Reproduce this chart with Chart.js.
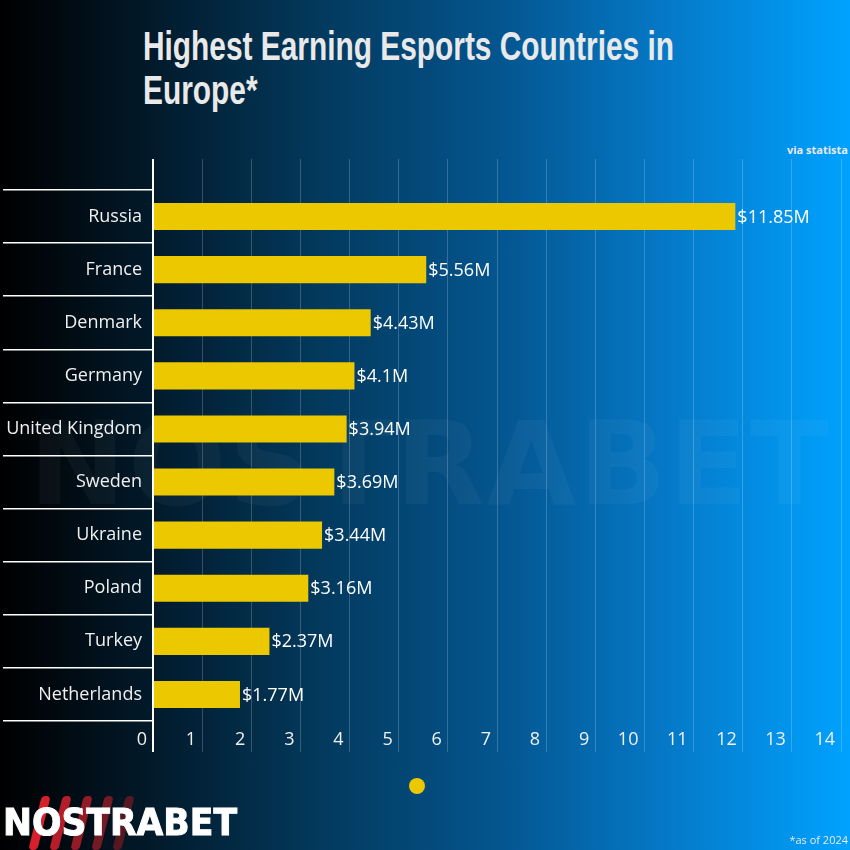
<!DOCTYPE html>
<html>
<head>
<meta charset="utf-8">
<script src="https://cdn.jsdelivr.net/npm/chart.js@4.4.1/dist/chart.umd.min.js"></script>
<style>
  html, body { margin: 0; padding: 0; }
  body {
    width: 850px; height: 850px; position: relative; overflow: hidden;
    background: linear-gradient(90deg, #000000 0%, #021a2b 18%, #033a5e 38%, #04548d 58%, #0578c6 78%, #00a2ff 100%);
    font-family: 'Open Sans', sans-serif;
  }
  #title {
    position: absolute; left: 143px; top: 24px; color: #e9e9e9;
    font-family: 'Liberation Sans', sans-serif;
    font-weight: bold; font-size: 40px; line-height: 44px; transform-origin: left top;
    white-space: nowrap;
  }
  #title span { display: inline-block; }
  #source { position: absolute; right: 2px; top: 142px; color: #e9e9e9; font-size: 11px; font-weight: bold; }
  #note { position: absolute; right: 2px; top: 832px; color: #e9e9e9; font-size: 11px; }
  #watermark {
    position: absolute; left: 20px; top: 396px; width: 820px; text-align: center;
    font-family: 'DejaVu Sans', sans-serif; font-weight: bold; font-size: 116px;
    color: rgba(255,255,255,0.04); letter-spacing: 2px;
  }
  #dot { position: absolute; left: 409px; top: 778px; width: 16px; height: 16px; border-radius: 50%; background: #ebc800; }
  #logo { position: absolute; left: 3px; top: 796px; width: 240px; height: 54px; }
  #logo .stripe { position: absolute; top: 0; width: 9px; height: 54px; transform: skewX(-14deg); border-radius: 4px; }
  #logo .word {
    position: absolute; left: 0; top: 5px; color: #ffffff; transform-origin: left top;
    font-family: 'DejaVu Sans', sans-serif; font-weight: bold; font-size: 37px; white-space: nowrap;
    -webkit-text-stroke: 1px #ffffff;
  }
  canvas { position: absolute; left: 0; top: 0; }
</style>
</head>
<body>
<div id="watermark">NOSTRABET</div>
<div id="title"><span id="line1">Highest Earning Esports Countries in</span><br><span>Europe*</span></div>
<div id="source">via statista</div>
<canvas id="chart" width="850" height="850"></canvas>
<div id="dot"></div>
<div id="logo">
  <div class="stripe" style="left:32px;background:#d6202c"></div>
  <div class="stripe" style="left:53px;background:#b51d29"></div>
  <div class="stripe" style="left:74px;background:#921b26"></div>
  <div class="stripe" style="left:95px;background:#731a24"></div>
  <div class="stripe" style="left:116px;background:#551820"></div>
  <div class="word" id="logoword">NOSTRABET</div>
</div>
<div id="note">*as of 2024</div>
<script>
// data
const countries = ['Russia', 'France', 'Denmark', 'Germany', 'United Kingdom', 'Sweden', 'Ukraine', 'Poland', 'Turkey', 'Netherlands'];
const earnings = [11.85, 5.56, 4.43, 4.1, 3.94, 3.69, 3.44, 3.16, 2.37, 1.77];
const axisMin = 0;
const axisMax = 14;

// squeeze title + logo to the widths in the picture
const line1 = document.getElementById('line1');
const title = document.getElementById('title');
title.style.transform = 'scaleX(' + (531 / line1.getBoundingClientRect().width) + ')';
const logoWord = document.getElementById('logoword');
logoWord.style.transform = 'scaleX(' + (234 / logoWord.getBoundingClientRect().width) + ')';

const labelFont = { family: "'Open Sans', sans-serif", size: 18 };
const faint = 'rgba(255,255,255,0.2)';
const gridColor = (ctx) => (ctx.tick && ctx.tick.value === 0 ? '#ffffff' : faint);
const gridWidth = (ctx) => (ctx.tick && ctx.tick.value === 0 ? 2 : 1);

// value labels at the bar ends
const valueLabels = {
  id: 'valueLabels',
  afterDatasetsDraw(chart) {
    const ctx = chart.ctx;
    const meta = chart.getDatasetMeta(0);
    ctx.save();
    ctx.font = '18px ' + labelFont.family;
    ctx.fillStyle = '#ffffff';
    ctx.textBaseline = 'middle';
    ctx.textAlign = 'left';
    meta.data.forEach((bar, i) => {
      ctx.fillText('$' + earnings[i] + 'M', bar.x + 2, bar.y + 1);
    });
    ctx.restore();
  }
};

new Chart(document.getElementById('chart'), {
  type: 'bar',
  data: {
    labels: countries,
    datasets: [{
      data: earnings,
      backgroundColor: '#ebc800',
      borderWidth: 0,
      categoryPercentage: 1,
      barPercentage: 0.51
    }]
  },
  options: {
    indexAxis: 'y',
    responsive: false,
    animation: false,
    layout: { padding: { left: 0, right: 9, top: 159, bottom: 98 } },
    plugins: {
      legend: { display: false },
      tooltip: { enabled: false }
    },
    scales: {
      x: {
        type: 'linear',
        position: 'bottom',
        min: axisMin,
        max: axisMax,
        border: { display: false },
        grid: { color: gridColor, lineWidth: gridWidth, tickColor: gridColor, tickWidth: gridWidth, tickLength: 31 },
        ticks: { stepSize: 1, color: '#f0f0f0', font: labelFont, align: 'end', labelOffset: -6, padding: -23, maxRotation: 0 },
        afterFit: (scale) => { scale.height = 31; }
      },
      xTop: {
        type: 'linear',
        position: 'top',
        display: true,
        min: axisMin,
        max: axisMax,
        border: { display: false },
        grid: { drawOnChartArea: false, color: gridColor, lineWidth: gridWidth, tickColor: gridColor, tickWidth: gridWidth, tickLength: 31 },
        ticks: { stepSize: 1, display: false },
        afterFit: (scale) => { scale.height = 31; }
      },
      y: {
        border: { display: false },
        grid: { offset: true, drawOnChartArea: false, color: '#ffffff', tickColor: '#ffffff', lineWidth: 1.5, tickLength: 150 },
        ticks: { color: '#f0f0f0', font: labelFont, padding: -139 },
        afterFit: (scale) => { scale.width = 153; }
      }
    }
  },
  plugins: [valueLabels]
});
</script>
</body>
</html>
